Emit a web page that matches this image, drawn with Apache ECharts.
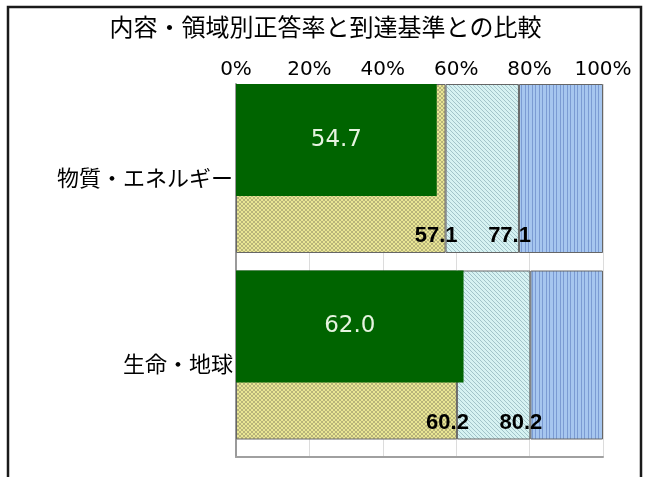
<!DOCTYPE html>
<html>
<head>
<meta charset="utf-8">
<script src="https://cdn.jsdelivr.net/npm/echarts@6/dist/echarts.min.js"></script>
<style>
html,body{margin:0;padding:0;background:#fff;}
#chart{width:651px;height:477px;}
</style>
</head>
<body>
<div id="chart"></div>
<script>
// ---- data ----
const titleText = '内容・領域別正答率と到達基準との比較';
const categories = ['物質・エネルギー', '生命・地球'];
const correctRate = [54.7, 62.0];      // 正答率
const lowerStandard = [57.1, 60.2];    // 概ね満足
const upperStandard = [77.1, 80.2];    // 十分満足
const axisMax = 100;
const tickLabels = ['0%', '20%', '40%', '60%', '80%', '100%'];

// derived segments for the stacked band
const segLower = lowerStandard.slice();
const segMiddle = upperStandard.map((u, i) => +(u - lowerStandard[i]).toFixed(1));
const segUpper = upperStandard.map(u => +(axisMax - u).toFixed(1));

// ---- patterns ----
function makePattern(w, h, bg, pix, fg) {
  const c = document.createElement('canvas');
  c.width = w; c.height = h;
  const ctx = c.getContext('2d');
  ctx.fillStyle = bg; ctx.fillRect(0, 0, w, h);
  ctx.fillStyle = fg;
  pix.forEach(p => ctx.fillRect(p[0], p[1], 1, 1));
  return c;
}
const yellowPat = makePattern(4, 4, '#e9e694',
  [[0,0],[1,1],[2,2],[3,3],[3,0],[2,1],[1,2],[0,3]], '#b8b47a');
const cyanPat = makePattern(4, 4, '#d6f2f2',
  [[0,0],[1,1],[2,2],[3,3]], '#a3c4ca');
const bluePat = makePattern(7, 4, '#a6c6ef',
  [[0,0],[0,1],[0,2],[0,3],[3,0],[3,1],[3,2],[3,3]], '#7b9bd3');

const numFont = "'DejaVu Sans', 'Liberation Sans', sans-serif";
const jpFont = "'Noto Sans CJK JP', sans-serif";

const chart = echarts.init(document.getElementById('chart'), null, {renderer: 'canvas'});

const segBorder = {borderColor: '#666', borderWidth: 1};
const thresholdLabel = (vals) => ({
  show: true,
  position: 'insideBottomRight',
  distance: 0,
  offset: [12, -6],
  color: '#000',
  fontSize: 22,
  fontWeight: 'bold',
  fontFamily: "'Liberation Sans', Arial, sans-serif",
  formatter: p => vals[p.dataIndex].toFixed(1)
});

chart.setOption({
  animation: false,
  backgroundColor: '#fff',
  title: {
    text: titleText,
    left: 'center',
    top: 10,
    textStyle: {fontSize: 24, fontWeight: 'normal', color: '#000', fontFamily: jpFont}
  },
  graphic: [{
    type: 'rect',
    shape: {x: 8, y: 7, width: 633, height: 520},
    style: {fill: null, stroke: '#1a1a1a', lineWidth: 2.5},
    silent: true,
    z: 100
  }],
  grid: [
    {left: 236, right: 48, top: 84, bottom: 20},          // display grid
    {left: 236, right: 48, top: 75.25, bottom: 28.75},    // stacked band
    {left: 236, right: 48, top: 46.75, bottom: 57.25}     // correct rate bar
  ],
  xAxis: [
    {
      gridIndex: 0, type: 'value', position: 'top', min: 0, max: axisMax, interval: 20,
      axisLine: {show: false}, axisTick: {show: false},
      splitLine: {show: true, lineStyle: {color: '#dcdcdc', width: 1}},
      axisLabel: {
        margin: 4, fontSize: 20, color: '#000', fontFamily: numFont,
        formatter: (v) => tickLabels[Math.round(v / 20)]
      }
    },
    {
      gridIndex: 0, type: 'value', position: 'bottom', min: 0, max: axisMax,
      axisLine: {show: true, onZero: false, lineStyle: {color: '#a0a0a0', width: 2}},
      axisTick: {show: false}, axisLabel: {show: false}, splitLine: {show: false}
    },
    {gridIndex: 1, type: 'value', min: 0, max: axisMax, show: false},
    {gridIndex: 2, type: 'value', min: 0, max: axisMax, show: false}
  ],
  yAxis: [
    {
      gridIndex: 0, type: 'category', data: categories, inverse: true,
      axisLine: {show: true, lineStyle: {color: '#9a9a9a', width: 2}},
      axisTick: {show: false},
      axisLabel: {margin: 3, fontSize: 22, color: '#000', fontFamily: jpFont}
    },
    {gridIndex: 1, type: 'category', data: categories, inverse: true, show: false},
    {gridIndex: 2, type: 'category', data: categories, inverse: true, show: false}
  ],
  series: [
    {
      name: '概ね満足', type: 'bar', stack: 'std', xAxisIndex: 2, yAxisIndex: 1,
      barWidth: 169, data: segLower,
      itemStyle: Object.assign({color: {image: yellowPat, repeat: 'repeat'}}, segBorder),
      label: thresholdLabel(lowerStandard), z: 2
    },
    {
      name: '十分満足', type: 'bar', stack: 'std', xAxisIndex: 2, yAxisIndex: 1,
      barWidth: 169, data: segMiddle,
      itemStyle: Object.assign({color: {image: cyanPat, repeat: 'repeat'}}, segBorder),
      label: thresholdLabel(upperStandard), z: 2
    },
    {
      name: '上位', type: 'bar', stack: 'std', xAxisIndex: 2, yAxisIndex: 1,
      barWidth: 169, data: segUpper,
      itemStyle: Object.assign({color: {image: bluePat, repeat: 'repeat'}}, segBorder),
      z: 1
    },
    {
      name: '正答率', type: 'bar', xAxisIndex: 3, yAxisIndex: 2,
      barWidth: 112, data: correctRate,
      itemStyle: {color: '#006400'},
      label: {
        show: true, position: 'inside', color: '#e6f4e0', fontSize: 23,
        fontFamily: numFont, formatter: p => p.value.toFixed(1)
      },
      z: 5
    }
  ]
});
</script>
</body>
</html>
